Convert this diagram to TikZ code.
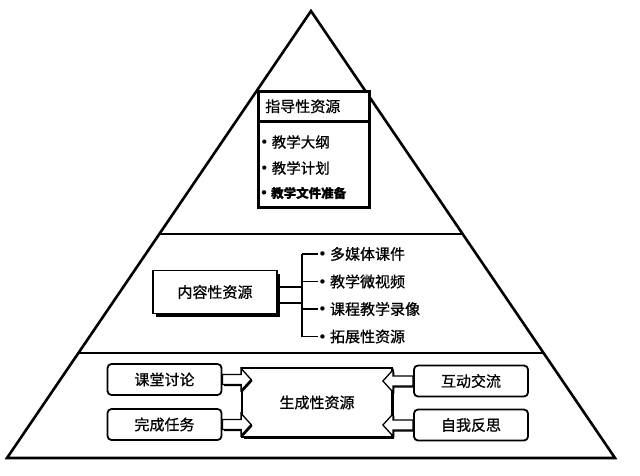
\documentclass[tikz,border=0pt]{standalone}
\usepackage{fontspec}
\setmainfont{Noto Sans CJK SC}[FakeBold=0.8]
\newfontfamily\bul{DejaVu Sans}
\usetikzlibrary{calc,shadows}

% hollow block arrow from #1 to #2
\newcommand{\blockarr}[2]{%
  \draw[blockarrow] let \p1=(#1), \p2=(#2), \p3=($(#2)!10pt!(#1)$) in
    (\x1,{\y1+5pt}) -- (\x3,{\y1+5pt}) -- (\x3,{\y1+11pt}) -- (\x2,\y2)
    -- (\x3,{\y1-11pt}) -- (\x3,{\y1-5pt}) -- (\x1,{\y1-5pt}) -- cycle;}
\newcommand{\bpt}{{\bul •}\hspace{3pt}}

\begin{document}
\begin{tikzpicture}[
    x=1pt, y=-1pt,
    font=\fontsize{15}{18}\selectfont,
    every node/.style={align=center},
    pyramid/.style={line width=2.6pt, line join=miter},
    divider/.style={line width=2.4pt},
    guidebox/.style={
        rectangle,
        draw=black,
        fill=white,
        line width=2.6pt,
        text width=97pt,
        inner xsep=7pt,
        align=left,
        anchor=north west
    },
    item/.style={anchor=west, inner sep=0pt},
    conbox/.style={
        rectangle,
        draw=black,
        fill=white,
        line width=1.6pt,
        minimum width=124pt,
        minimum height=43pt,
        general shadow={fill=black, shadow xshift=3pt, shadow yshift=-3pt}
    },
    link/.style={draw, line width=1.6pt},
    sidebox/.style={
        rectangle,
        rounded corners=4pt,
        draw=black,
        fill=white,
        line width=1.8pt,
        minimum width=114pt,
        minimum height=31pt
    },
    genbox/.style={
        rectangle,
        draw=black,
        fill=white,
        line width=1.8pt,
        minimum width=150pt,
        minimum height=69pt,
        general shadow={fill=black, shadow xshift=1.5pt, shadow yshift=-1.5pt}
    },
    blockarrow/.style={
        draw=black,
        fill=white,
        line width=1.3pt,
        general shadow={fill=black, shadow xshift=1.5pt, shadow yshift=-1.5pt}
    },
]
\useasboundingbox (0,0) rectangle (640,476);

% Pyramid
\coordinate (top) at (311,11);
\coordinate (bl) at (7,458);
\coordinate (br) at (615,458);
\draw[pyramid] (top) -- (bl) -- (br) -- cycle;
\draw[divider] ($(bl)!0.501!(top)$) -- ($(br)!0.501!(top)$);
\draw[divider] ($(bl)!0.235!(top)$) -- ($(br)!0.235!(top)$);

% Top layer
\node[guidebox, minimum height=30pt] (guidehead) at (257,90) {指导性资源};
\node[guidebox, minimum height=86pt] (guidebody) at (257,120) {};
\node[item, font=\fontsize{14.5}{17}\selectfont] (g1) at (260,142) {\bpt 教学大纲};
\node[item, font=\fontsize{14.5}{17}\selectfont] (g2) at (260,168) {\bpt 教学计划};
\node[item, font=\fontsize{12.5}{15}\selectfont\bfseries] (g3) at (260,193) {\bpt 教学文件准备};

% Middle layer
\node[conbox] (content) at (215,292) {内容性资源};
\coordinate (spine) at (302,0);
\node[item] (c1) at (318,254) {\bpt 多媒体课件};
\node[item] (c2) at (318,281.5) {\bpt 教学微视频};
\node[item] (c3) at (318,309) {\bpt 课程教学录像};
\node[item] (c4) at (318,336.5) {\bpt 拓展性资源};

\draw[link] ([yshift=5pt]content.east) -- +(25,0);
\draw[link] ([yshift=-11pt]content.east) -- +(25,0);
\draw[link] (c1.west -| spine) -- (c4.west -| spine);
\draw[link] (c1.west) -- (c1.west -| spine);
\draw[link] (c2.west) -- (c2.west -| spine);
\draw[link] (c3.west) -- (c3.west -| spine);
\draw[link] (c4.west) -- (c4.west -| spine);

% Bottom layer
\node[sidebox] (discuss)  at (164.5,379.5) {课堂讨论};
\node[sidebox] (task)     at (164.5,424.5) {完成任务};
\node[genbox]  (gen)      at (317,402.5)   {生成性资源};
\node[sidebox] (interact) at (471,381)     {互动交流};
\node[sidebox] (reflect)  at (471,425)     {自我反思};

\coordinate (genl) at ([xshift=10pt]gen.west);
\coordinate (genr) at ([xshift=-10pt]gen.east);

% Arrows
\blockarr{discuss.east}{genl |- discuss.east}
\blockarr{task.east}{genl |- task.east}
\blockarr{interact.west}{genr |- interact.west}
\blockarr{reflect.west}{genr |- reflect.west}

\end{tikzpicture}
\end{document}
